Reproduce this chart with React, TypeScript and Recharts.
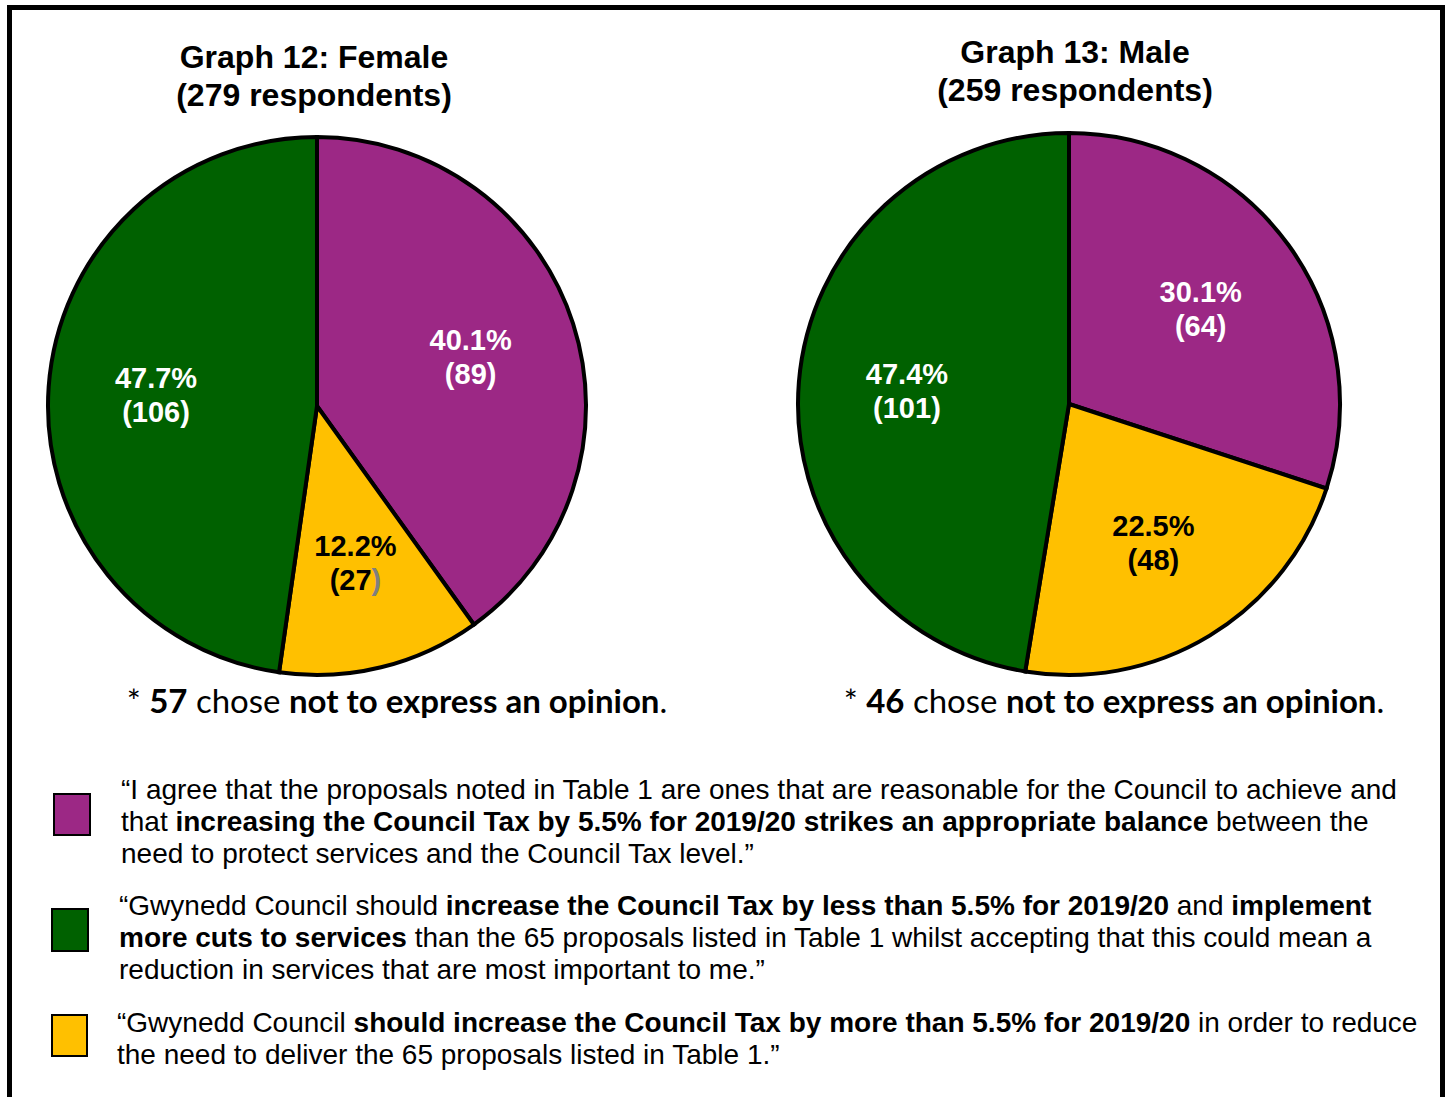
import React from "react";
import { Pie, PieChart, Cell } from "recharts";

// slice order clockwise from 12 o'clock: agree 5.5%, more than 5.5%, less than 5.5%
const categories = ["Agree 5.5%", "More than 5.5%", "Less than 5.5%"];
const sliceColors = ["#9C2885", "#FFC000", "#006100"];
const labelColors = ["#FFFFFF", "#000000", "#FFFFFF"];

const femaleCounts = [89, 27, 106];
const femalePercents = ["40.1%", "12.2%", "47.7%"];
const maleCounts = [64, 48, 101];
const malePercents = ["30.1%", "22.5%", "47.4%"];

const RADIAN = Math.PI / 180;
const arial = "'Liberation Sans', Arial, sans-serif";

const makeData = (counts: number[], percents: string[]) =>
  categories.map((name, i) => ({ name, value: counts[i], pct: percents[i] }));

// greyParen: the female chart's "(27)" has a stray grey closing bracket
const makeLabel = (greyParen: boolean) => (props: any) => {
  const { cx, cy, midAngle, outerRadius, index, payload } = props;
  const r = outerRadius * 0.6;
  const x = cx + r * Math.cos(-midAngle * RADIAN);
  const y = cy + r * Math.sin(-midAngle * RADIAN);
  const fill = labelColors[index];
  return (
    <text
      x={x}
      y={y}
      textAnchor="middle"
      fill={fill}
      fontFamily={arial}
      fontWeight="bold"
      fontSize={29}
    >
      <tspan x={x} dy={-7}>
        {payload.pct}
      </tspan>
      <tspan x={x} dy={34}>
        ({payload.value}
        <tspan fill={greyParen && index === 1 ? "#7f7f7f" : fill}>)</tspan>
      </tspan>
    </text>
  );
};

const GenderPie = ({
  counts,
  percents,
  left,
  top,
  radius,
  greyParen = false,
}: {
  counts: number[];
  percents: string[];
  left: number;
  top: number;
  radius: number;
  greyParen?: boolean;
}) => (
  <div style={{ position: "absolute", left, top }}>
    <PieChart width={570} height={570} margin={{ top: 0, right: 0, bottom: 0, left: 0 }}>
      <Pie
        data={makeData(counts, percents)}
        dataKey="value"
        cx={285}
        cy={285}
        outerRadius={radius}
        startAngle={90}
        endAngle={-270}
        stroke="#000"
        strokeWidth={4}
        labelLine={false}
        label={makeLabel(greyParen)}
        isAnimationActive={false}
      >
        {categories.map((c, i) => (
          <Cell key={c} fill={sliceColors[i]} />
        ))}
      </Pie>
    </PieChart>
  </div>
);

const titleStyle: React.CSSProperties = {
  position: "absolute",
  width: 500,
  textAlign: "center",
  fontFamily: arial,
  fontWeight: "bold",
  fontSize: 32,
  lineHeight: "38px",
};

const noteStyle: React.CSSProperties = {
  position: "absolute",
  width: 620,
  textAlign: "center",
  fontFamily: "Lato, 'Open Sans', sans-serif",
  fontSize: 33,
  lineHeight: "40px",
  whiteSpace: "nowrap",
};

const legendText: React.CSSProperties = {
  position: "absolute",
  fontFamily: arial,
  fontSize: 28,
  lineHeight: "32px",
  whiteSpace: "nowrap",
};

const Swatch = ({ color, left, top, w, h }: { color: string; left: number; top: number; w: number; h: number }) => (
  <div
    style={{
      position: "absolute",
      left,
      top,
      width: w - 4,
      height: h - 4,
      background: color,
      border: "2px solid #000",
    }}
  />
);

export default function App() {
  return (
    <div
      style={{
        position: "absolute",
        left: 0,
        top: 0,
        width: 1450,
        height: 1097,
        background: "#fff",
        overflow: "hidden",
      }}
    >
      {/* frame */}
      <div
        style={{
          position: "absolute",
          left: 7,
          top: 5,
          width: 1428,
          height: 1200,
          border: "5px solid #000",
          borderBottom: "none",
        }}
      />

      <div style={{ ...titleStyle, left: 64, top: 38 }}>
        Graph 12: Female
        <br />
        (279 respondents)
      </div>
      <div style={{ ...titleStyle, left: 825, top: 33 }}>
        Graph 13: Male
        <br />
        (259 respondents)
      </div>

      <GenderPie counts={femaleCounts} percents={femalePercents} left={32} top={121} radius={269} greyParen />
      <GenderPie counts={maleCounts} percents={malePercents} left={784} top={119} radius={271} />

      <div style={{ ...noteStyle, left: 87, top: 680 }}>
        * <b>57</b> chose <b>not to express an opinion</b>.
      </div>
      <div style={{ ...noteStyle, left: 804, top: 680 }}>
        * <b>46</b> chose <b>not to express an opinion</b>.
      </div>

      <Swatch color={sliceColors[0]} left={53} top={793} w={38} h={43} />
      <div style={{ ...legendText, left: 121, top: 774 }}>
        “I agree that the proposals noted in Table 1 are ones that are reasonable for the Council to achieve and
        <br />
        that <b>increasing the Council Tax by 5.5% for 2019/20 strikes an appropriate balance</b> between the
        <br />
        need to protect services and the Council Tax level.”
      </div>

      <Swatch color={sliceColors[2]} left={51} top={908} w={38} h={44} />
      <div style={{ ...legendText, left: 119, top: 890 }}>
        “Gwynedd Council should <b>increase the Council Tax by less than 5.5% for 2019/20</b> and <b>implement</b>
        <br />
        <b>more cuts to services</b> than the 65 proposals listed in Table 1 whilst accepting that this could mean a
        <br />
        reduction in services that are most important to me.”
      </div>

      <Swatch color={sliceColors[1]} left={51} top={1014} w={37} h={43} />
      <div style={{ ...legendText, left: 117, top: 1007 }}>
        “Gwynedd Council <b>should increase the Council Tax by more than 5.5% for 2019/20</b> in order to reduce
        <br />
        the need to deliver the 65 proposals listed in Table 1.”
      </div>
    </div>
  );
}
